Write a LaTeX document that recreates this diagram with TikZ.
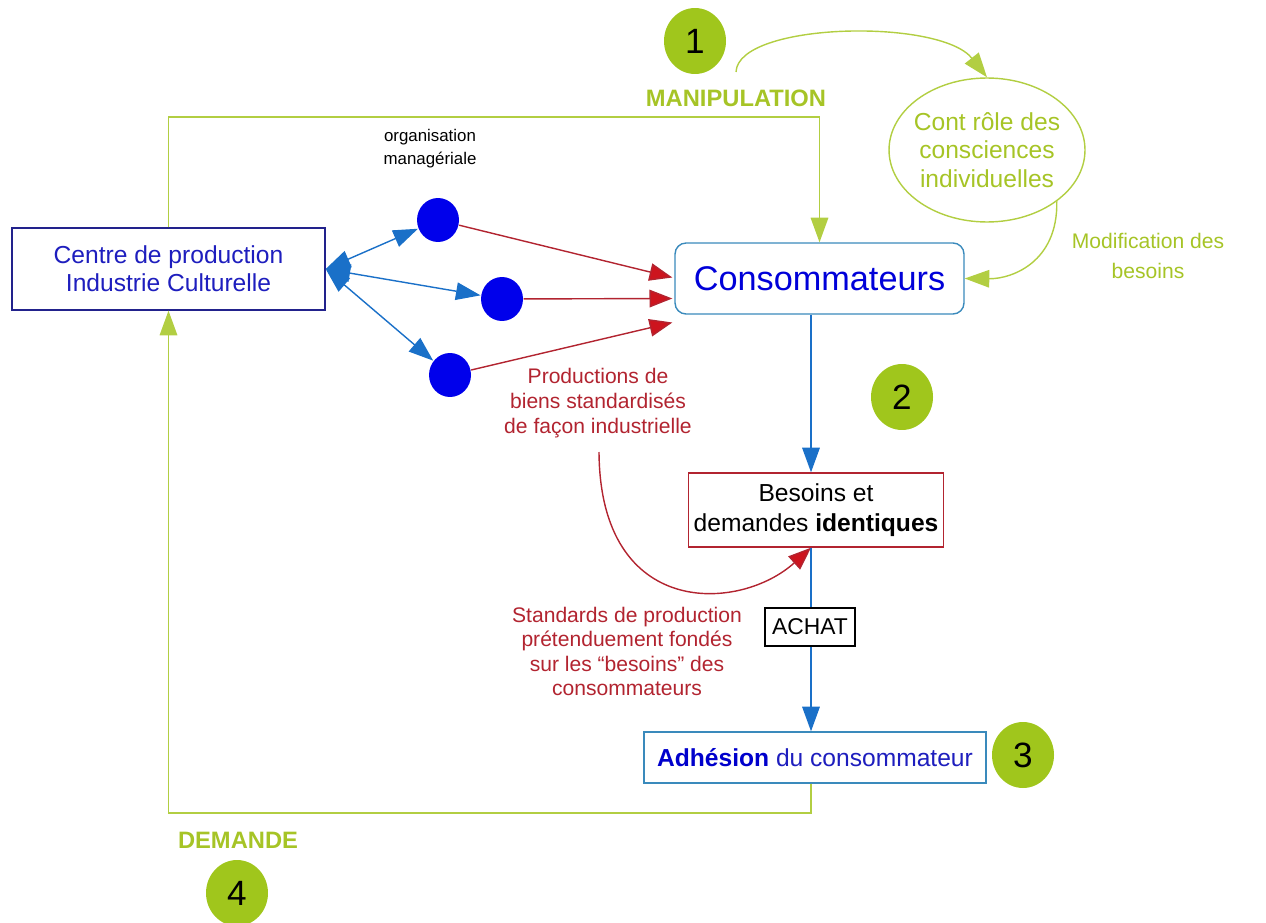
\documentclass[tikz,border=0pt]{standalone}
\usepackage{fontspec}
\setmainfont{Liberation Sans}
\usetikzlibrary{arrows.meta,positioning,shapes.geometric}

\definecolor{lime}{RGB}{160,198,28}
\definecolor{limeline}{RGB}{178,206,66}
\definecolor{limetext}{RGB}{166,196,38}
\definecolor{dotblue}{RGB}{0,0,235}
\definecolor{arrblue}{RGB}{26,112,200}
\definecolor{navy}{RGB}{34,34,140}
\definecolor{inkblue}{RGB}{30,30,190}
\definecolor{brick}{RGB}{178,36,48}
\definecolor{arrred}{RGB}{205,20,30}
\definecolor{skyline}{RGB}{58,138,188}

\newcommand{\fsz}[2]{\fontsize{#1}{#2}\selectfont}

\begin{document}
\begin{tikzpicture}[
	x = 0.02cm, y = -0.02cm, % one unit is one pixel of the sketch
	> = {Triangle[length=14pt, width=10pt]}, % arrow head style
	line width = 0.8pt,
	box/.style={rectangle, draw, fill=white, inner sep=2pt, align=center},
	dot/.style={ellipse, fill=dotblue, minimum width=0.84cm, minimum height=0.88cm, inner sep=0pt},
	num/.style={ellipse, fill=lime, minimum width=1.24cm, minimum height=1.32cm, inner sep=0pt, font=\fsz{20}{24}},
	greenarr/.style={color=limeline, ->},
	bluearr/.style={color=arrblue},
	redarr/.style={draw=brick, -{Triangle[length=13pt, width=10pt, fill=arrred]}},
	]
	\useasboundingbox (0,0) rectangle (1266,922);

	% Production side
	\node[box, draw=navy, text=inkblue, minimum width=6.26cm, minimum height=1.64cm, font=\fsz{14}{16}] (centre) at (168.5,269) {Centre de production\\Industrie Culturelle};
	\node[dot] (dotA) at (438,220) {};
	\node[dot] (dotB) at (502,299) {};
	\node[dot] (dotC) at (450,375) {};
	\node[align=center, font=\fsz{9.6}{13}] (orga) [above = 0.45cm of dotA, xshift=-0.16cm] {organisation\\managériale};
	\draw[bluearr, <->] (centre.east) -- (dotA);
	\draw[bluearr, <->] (centre.east) -- (dotB);
	\draw[bluearr, <->] (centre.east) -- (dotC);

	% Consumers
	\node[box, draw=skyline, rounded corners=0.22cm, text=blue!85!black, minimum width=5.78cm, minimum height=1.42cm, font=\fsz{19.5}{22}] (conso) at (819.5,278.5) {Consommateurs};
	\draw[redarr] (dotA) -- ([shift={(-2,-1)}]conso.west);
	\draw[redarr] (dotB) -- ([shift={(-2,20)}]conso.west);
	\draw[redarr] (dotC) -- ([shift={(-2,44)}]conso.west);
	\node[align=center, text=brick, font=\fsz{12}{14}] (prod) at (598,403) {Productions de\\biens standardisés\\de façon industrielle};

	% Manipulation
	\node[num] (n1) at (695,41) {1};
	\node[text=limetext, font=\bfseries\fsz{13.5}{16}] (manip) at (736,98) {MANIPULATION};
	\coordinate (topbend) at (819.5,117);
	\draw[greenarr] (centre.north) |- (topbend) -- (conso.north);
	\node[ellipse, draw=limeline, text=limetext, align=center, inner xsep=-0.3cm, inner ysep=0pt, minimum width=3.92cm, minimum height=2.88cm, font=\fsz{14}{16.2}] (ctrl) at (987,150) {Cont rôle des\\consciences\\individuelles};
	\coordinate (manipstart) at (736,72);
	\draw[greenarr] (manipstart) .. controls (738,22) and (940,18) .. (ctrl.north);
	\draw[greenarr] (ctrl.south east) .. controls (1058,262) and (1012,279) .. (conso.east);
	\node[align=center, text=limetext, font=\fsz{12}{17}] (modif) at (1148,256) {Modification des\\besoins};

	% Needs and purchase
	\coordinate (spine) at (811,0);
	\node[num] (n2) at (902,397) {2};
	\node[box, draw=brick, minimum width=5.1cm, minimum height=1.48cm, font=\fsz{14}{17}] (besoins) at (816,510) {Besoins et\\demandes \textbf{identiques}};
	\draw[bluearr, ->] (conso.south -| spine) -- (besoins.north -| spine);
	\coordinate (prodend) at (599,452);
	\draw[redarr] (prodend) .. controls (600,620) and (740,612) .. (besoins.south -| spine);
	\node[box, draw=skyline, text=inkblue, minimum width=6.84cm, minimum height=1.02cm, font=\fsz{14}{16}] (adh) at (815,757.5) {\textbf{\color{blue!80!black}Adhésion} du consommateur};
	\draw[bluearr, ->] (besoins.south -| spine) -- (adh.north -| spine);
	\node[box, draw=black, inner sep=1pt, minimum width=1.8cm, minimum height=0.76cm, font=\fsz{13}{15}] (achat) at (810,627) {ACHAT};
	\node[align=center, text=brick, font=\fsz{12}{13.9}] (standards) at (627,651.5) {Standards de production\\prétenduement fondés\\sur les “besoins” des\\consommateurs};
	\node[num] (n3) at (1023,755) {3};

	% Demand back to production
	\coordinate (botbend) at (168.5,813);
	\draw[greenarr] (adh.south -| spine) |- (botbend) -- (centre.south);
	\node[text=limetext, font=\bfseries\fsz{13.5}{16}] (dem) at (238,840) {DEMANDE};
	\node[num] (n4) at (237,893) {4};
\end{tikzpicture}
\end{document}
